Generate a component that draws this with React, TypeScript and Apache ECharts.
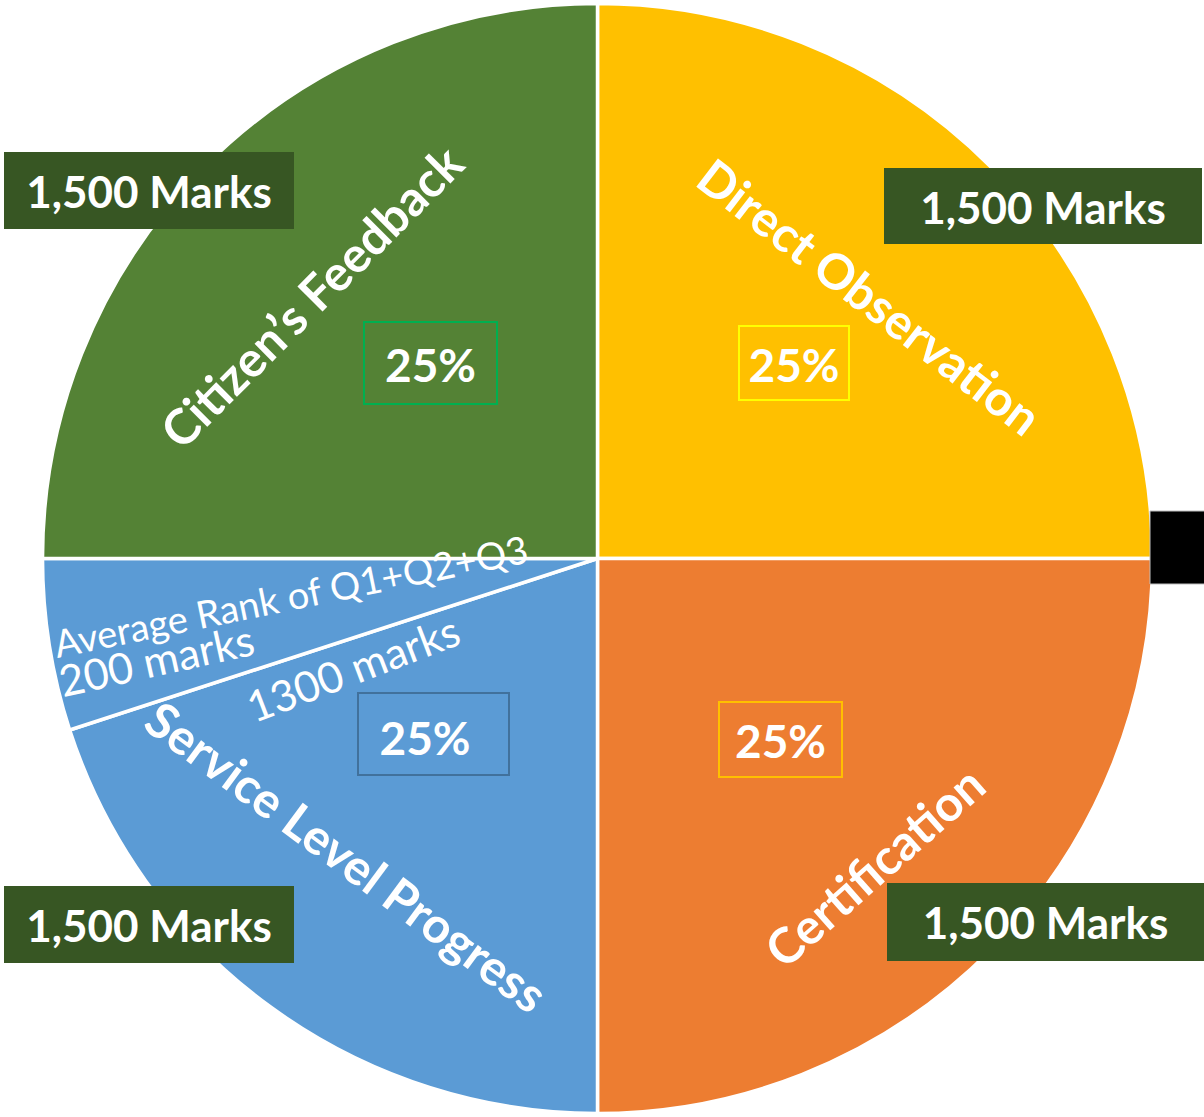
import React, { useEffect, useRef } from "react";
import * as echarts from "echarts";

// Slices, clockwise from 12 o'clock (values = share of the circle as drawn, %)
const sliceNames = [
  "Direct Observation",
  "Certification",
  "Service Level Progress",
  "Average Rank of Q1+Q2+Q3",
  "Citizen’s Feedback",
];
const sliceValues = [25, 25, 20, 5, 25];
const sliceColors = ["#FFC000", "#ED7D31", "#5B9BD5", "#5B9BD5", "#548235"];

// Quadrant annotations
const quadrantNames = ["Citizen’s Feedback", "Direct Observation", "Service Level Progress", "Certification"];
const quadrantShares = ["25%", "25%", "25%", "25%"];
const quadrantMarks = ["1,500 Marks", "1,500 Marks", "1,500 Marks", "1,500 Marks"];
const subMarks = ["200 marks", "1300 marks"];
const subTitle = "Average Rank of Q1+Q2+Q3";

const FONT = "Lato, 'Open Sans', sans-serif";
const deg = (d: number) => (d * Math.PI) / 180;
const Z = 100;

export default function App() {
  const ref = useRef<HTMLDivElement>(null);
  useEffect(() => {
    if (!ref.current) return;
    const chart = echarts.init(ref.current, undefined, { renderer: "svg" });

    const nameText = (text: string, x: number, y: number, rot: number) => ({
      type: "text",
      x,
      y,
      rotation: deg(rot),
      z: Z,
      style: {
        text,
        fill: "#fff",
        fontSize: 49,
        fontWeight: "bold",
        fontFamily: FONT,
        align: "center",
        verticalAlign: "middle",
      },
    });
    const shareRect = (x: number, y: number, w: number, h: number, stroke: string) => ({
      type: "rect",
      z: Z,
      shape: { x, y, width: w, height: h },
      style: { fill: "transparent", stroke, lineWidth: 2 },
    });
    const shareText = (text: string, x: number, y: number) => ({
      type: "text",
      x,
      y,
      z: Z + 1,
      style: {
        text,
        fill: "#fff",
        fontSize: 46,
        fontWeight: "bold",
        fontFamily: FONT,
        align: "center",
        verticalAlign: "middle",
      },
    });
    const marksRect = (x: number, y: number, w: number, h: number) => ({
      type: "rect",
      z: Z,
      shape: { x, y, width: w, height: h },
      style: { fill: "#375623" },
    });
    const marksText = (text: string, x: number, y: number) => ({
      type: "text",
      x,
      y,
      z: Z + 1,
      style: {
        text,
        fill: "#fff",
        fontSize: 44,
        fontWeight: "bold",
        fontFamily: FONT,
        align: "center",
        verticalAlign: "middle",
      },
    });
    const smallText = (text: string, x: number, y: number, rot: number, size: number) => ({
      type: "text",
      x,
      y,
      rotation: deg(rot),
      z: Z,
      style: {
        text,
        fill: "#fff",
        fontSize: size,
        fontWeight: "normal",
        fontFamily: FONT,
        align: "left",
        verticalAlign: "bottom",
      },
    });

    chart.setOption({
      animation: false,
      backgroundColor: "#ffffff",
      series: [
        {
          type: "pie",
          z: 1,
          center: [597.5, 558.5],
          radius: [0, 555],
          startAngle: 90,
          clockwise: true,
          label: { show: false },
          labelLine: { show: false },
          emphasis: { disabled: true },
          itemStyle: { borderColor: "#ffffff", borderWidth: 3.5 },
          data: sliceNames.map((n, i) => ({
            name: n,
            value: sliceValues[i],
            itemStyle: { color: sliceColors[i] },
          })),
        },
      ],
      graphic: [
        nameText(quadrantNames[0], 311, 296, 45),
        nameText(quadrantNames[1], 870, 296, -37.5),
        nameText(quadrantNames[2], 347, 856, -36.5),
        nameText(quadrantNames[3], 874, 866, 41.5),
        shareRect(364, 322, 133, 82, "#00B050"),
        shareRect(739, 326, 110, 74, "#FFFF00"),
        shareRect(358, 693, 151, 82, "#41719C"),
        shareRect(719, 702, 123, 75, "#FFC000"),
        shareText(quadrantShares[0], 430.5, 364),
        shareText(quadrantShares[1], 794, 364),
        shareText(quadrantShares[2], 425, 737),
        shareText(quadrantShares[3], 780.5, 740),
        marksRect(4, 152, 290, 77),
        marksRect(884, 168, 318, 76),
        marksRect(4, 886, 290, 77),
        marksRect(887, 883, 317, 78),
        marksText(quadrantMarks[0], 149, 191),
        marksText(quadrantMarks[1], 1043, 207),
        marksText(quadrantMarks[2], 149, 925),
        marksText(quadrantMarks[3], 1045.5, 922),
        smallText(subTitle, 58, 662, 11.5, 38),
        smallText(subMarks[0], 64, 702, 12.5, 43),
        smallText(subMarks[1], 256, 728, 21, 43),
        {
          type: "rect",
          z: Z,
          shape: { x: 1150, y: 511, width: 56, height: 73 },
          style: { fill: "#000000", stroke: "#bfbfbf", lineWidth: 1 },
        },
      ],
    });
    return () => chart.dispose();
  }, []);
  return (
    <div
      ref={ref}
      style={{ position: "absolute", left: 0, top: 0, width: 1204, height: 1117 }}
    />
  );
}
